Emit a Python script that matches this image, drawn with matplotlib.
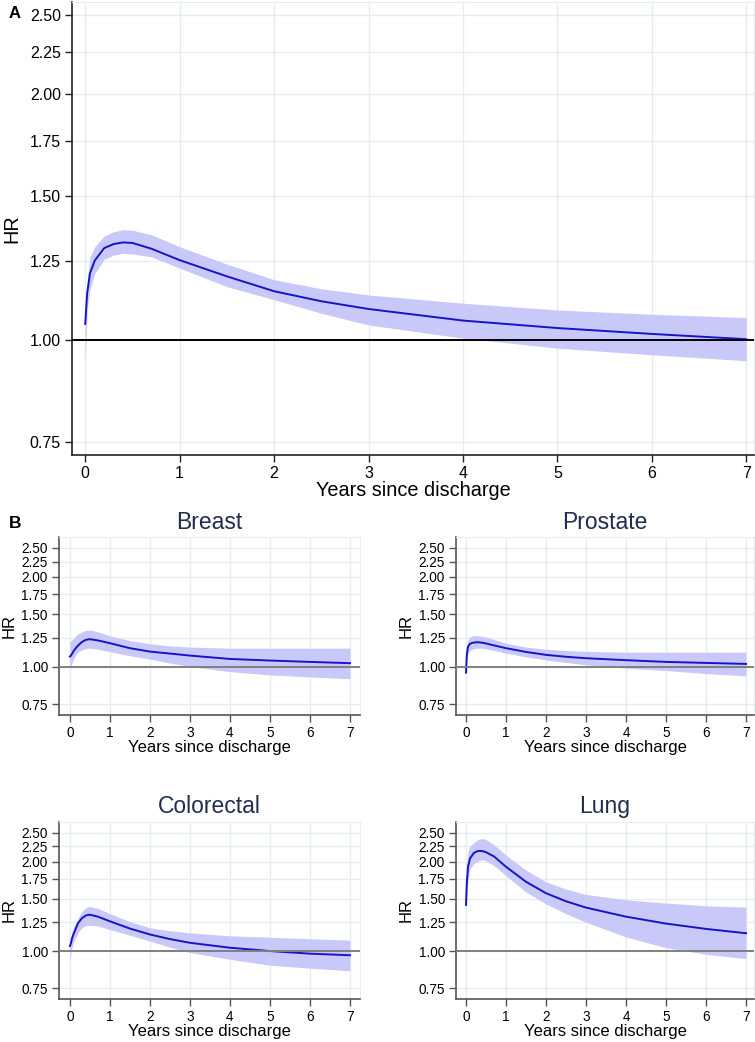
import matplotlib

matplotlib.use("Agg")

import matplotlib.pyplot as plt  # noqa: E402
from matplotlib.ticker import FixedLocator, NullLocator  # noqa: E402

plt.rcParams["font.family"] = ["Liberation Sans", "DejaVu Sans"]

# years since discharge at which the curves were read
YEARS = [0, 0.02, 0.05, 0.1, 0.2, 0.3, 0.4, 0.5, 0.7, 1, 1.5, 2, 2.5, 3, 4, 5, 6, 7]

# panel A: all cancers
ALL_HR = [1.046, 1.14, 1.206, 1.25, 1.295, 1.31, 1.316, 1.314, 1.293, 1.252, 1.196, 1.147,
          1.115, 1.091, 1.056, 1.034, 1.017, 1.002]
ALL_HI = [1.06, 1.18, 1.264, 1.30, 1.34, 1.356, 1.364, 1.362, 1.345, 1.30, 1.238, 1.185,
          1.155, 1.135, 1.109, 1.088, 1.075, 1.065]
ALL_LO = [0.93, 1.09, 1.151, 1.205, 1.255, 1.27, 1.276, 1.274, 1.264, 1.224, 1.162, 1.12,
          1.078, 1.043, 1.005, 0.977, 0.959, 0.943]

# panel B
BREAST_HR = [1.083, 1.09, 1.105, 1.135, 1.178, 1.212, 1.232, 1.238, 1.226, 1.20, 1.155, 1.125,
             1.108, 1.091, 1.063, 1.05, 1.039, 1.029]
BREAST_HI = [1.215, 1.22, 1.23, 1.25, 1.29, 1.31, 1.325, 1.33, 1.31, 1.27, 1.225, 1.195,
             1.175, 1.165, 1.155, 1.155, 1.155, 1.155]
BREAST_LO = [0.98, 1.0, 1.03, 1.07, 1.12, 1.14, 1.152, 1.155, 1.145, 1.125, 1.09, 1.062,
             1.03, 1.002, 0.964, 0.94, 0.925, 0.912]

PROSTATE_HR = [0.957, 1.1, 1.169, 1.195, 1.207, 1.209, 1.205, 1.198, 1.18, 1.155, 1.122, 1.097,
               1.081, 1.069, 1.053, 1.039, 1.031, 1.023]
PROSTATE_HI = [0.98, 1.16, 1.23, 1.263, 1.272, 1.272, 1.265, 1.258, 1.235, 1.2, 1.165, 1.146,
               1.135, 1.127, 1.12, 1.12, 1.12, 1.12]
PROSTATE_LO = [0.93, 1.04, 1.11, 1.135, 1.15, 1.155, 1.153, 1.148, 1.135, 1.111, 1.08, 1.055,
               1.034, 1.016, 0.99, 0.972, 0.95, 0.933]

COLORECTAL_HR = [1.039, 1.06, 1.1, 1.15, 1.24, 1.29, 1.318, 1.325, 1.305, 1.259, 1.19, 1.137,
                 1.097, 1.066, 1.026, 1.0, 0.98, 0.968]
COLORECTAL_HI = [1.08, 1.12, 1.16, 1.21, 1.29, 1.36, 1.4, 1.412, 1.39, 1.336, 1.255, 1.197,
                 1.17, 1.151, 1.125, 1.113, 1.1, 1.088]
COLORECTAL_LO = [0.915, 0.97, 1.03, 1.08, 1.15, 1.2, 1.22, 1.22, 1.215, 1.181, 1.13, 1.08,
                 1.03, 0.988, 0.938, 0.896, 0.876, 0.858]

LUNG_HR = [1.43, 1.70, 1.92, 2.05, 2.14, 2.17, 2.17, 2.15, 2.08, 1.92, 1.71, 1.565,
           1.47, 1.40, 1.305, 1.237, 1.187, 1.148]
LUNG_HI = [1.5, 1.95, 2.17, 2.25, 2.32, 2.37, 2.39, 2.37, 2.28, 2.10, 1.87, 1.71,
           1.615, 1.55, 1.487, 1.45, 1.42, 1.405]
LUNG_LO = [1.35, 1.5, 1.72, 1.89, 1.97, 2.01, 2.03, 2.01, 1.94, 1.79, 1.58, 1.44,
           1.335, 1.25, 1.115, 1.026, 0.975, 0.943]

Y_TICKS = [0.75, 1.00, 1.25, 1.50, 1.75, 2.00, 2.25, 2.50]
X_TICKS = [0, 1, 2, 3, 4, 5, 6, 7]

LINE_C = "#1414c8"
BAND_C = "#c9c9f9"
GRID_C = "#e6edf1"
TITLE_C = "#1f2d4f"


def draw(ax, hr, lo, hi, ref_color, tick_fs, label_fs, spine_c):
    ax.set_yscale("log")
    ax.fill_between(YEARS, lo, hi, color=BAND_C, lw=0, zorder=2)
    ax.plot(YEARS, hr, color=LINE_C, lw=1.4, zorder=3)
    ax.axhline(1.0, color=ref_color, lw=1.4, zorder=4)
    ax.yaxis.set_major_locator(FixedLocator(Y_TICKS))
    ax.yaxis.set_minor_locator(NullLocator())
    ax.set_yticklabels([f"{v:.2f}" for v in Y_TICKS])
    ax.set_xticks(X_TICKS)
    ax.grid(True, color=GRID_C, lw=1.0, zorder=0)
    ax.set_axisbelow(True)
    for s in ("top", "right"):
        ax.spines[s].set_color(GRID_C)
    for s in ("left", "bottom"):
        ax.spines[s].set_color(spine_c)
        ax.spines[s].set_linewidth(1.2)
    ax.tick_params(axis="both", direction="out", length=5, width=1.0, color=spine_c,
                   labelsize=tick_fs, pad=3)
    ax.set_xlabel("Years since discharge", fontsize=label_fs, labelpad=0)
    ax.set_ylabel("HR", fontsize=label_fs)


fig = plt.figure(figsize=(7.55, 10.42), dpi=100)

ax_a = fig.add_axes([0.0954, 0.5633, 0.903, 0.4347])
draw(ax_a, ALL_HR, ALL_LO, ALL_HI, "black", 11.5, 14.3, "#222222")
ax_a.set_xlim(-0.14, 7.08)
ax_a.set_ylim(0.723, 2.59)
ax_a.yaxis.set_label_coords(-0.074, 0.5)

panels = [
    ("Breast", BREAST_HR, BREAST_LO, BREAST_HI, [0.0781, 0.3138, 0.3987, 0.1708], (-0.275, 7.25)),
    ("Prostate", PROSTATE_HR, PROSTATE_LO, PROSTATE_HI, [0.604, 0.3138, 0.3947, 0.1708], (-0.25, 7.2)),
    ("Colorectal", COLORECTAL_HR, COLORECTAL_LO, COLORECTAL_HI, [0.0781, 0.0413, 0.3987, 0.170], (-0.275, 7.25)),
    ("Lung", LUNG_HR, LUNG_LO, LUNG_HI, [0.604, 0.0413, 0.3947, 0.170], (-0.25, 7.2)),
]
for name, hr, lo, hi, rect, xl in panels:
    ax = fig.add_axes(rect)
    draw(ax, hr, lo, hi, "#808080", 9.8, 12, "#555555")
    ax.set_xlim(*xl)
    ax.set_ylim(0.69, 2.72)
    ax.set_title(name, fontsize=16.5, color=TITLE_C, pad=6)
    ax.yaxis.set_label_coords(-0.142, 0.5)

fig.text(0.012, 0.987, "A", fontsize=12, fontweight="bold", va="center", ha="left")
fig.text(0.012, 0.498, "B", fontsize=12.5, fontweight="bold", va="center", ha="left")

fig.savefig("out.png", dpi=100)
